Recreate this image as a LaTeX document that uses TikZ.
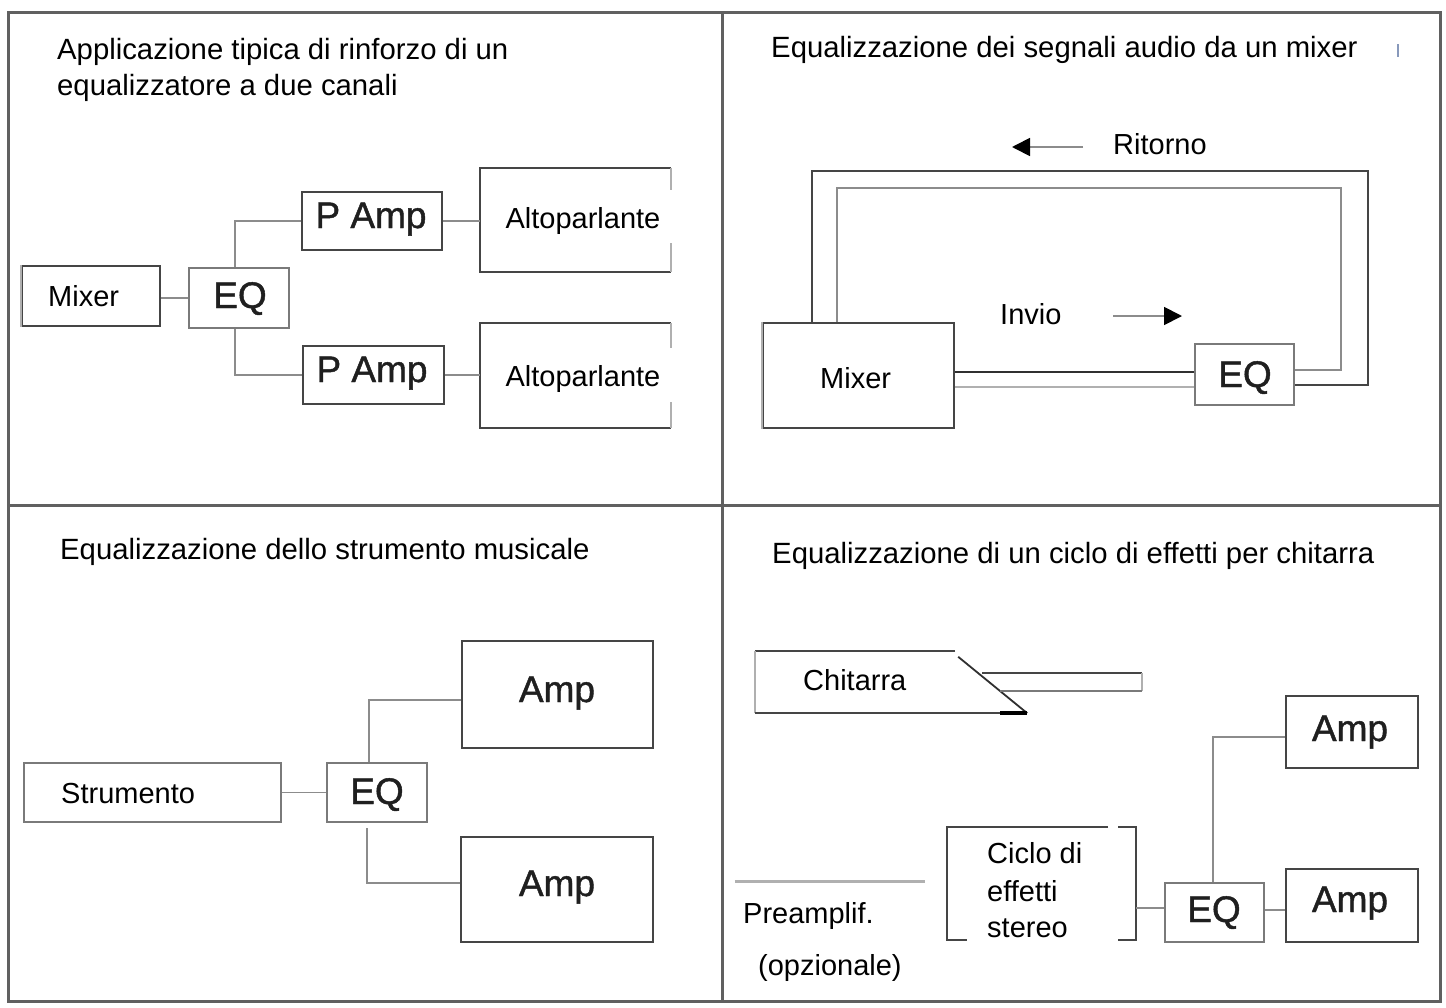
\documentclass[tikz,border=0pt]{standalone}
\usepackage{fontspec}
\setmainfont{Liberation Sans}
\newfontfamily\heavyfont[FakeBold=1.2]{Liberation Sans}
\usetikzlibrary{arrows.meta}
\definecolor{framec}{HTML}{606060}
\definecolor{boxc}{HTML}{454545}
\definecolor{eqc}{HTML}{7A7A7A}
\definecolor{sidec}{HTML}{B0B0B0}
\definecolor{wirec}{HTML}{8C8C8C}
\definecolor{darkw}{HTML}{303030}
\definecolor{markc}{HTML}{8899BB}
\begin{document}
\begin{tikzpicture}[x=1pt,y=-1pt,
  txt/.style={font=\fontsize{29}{35}\selectfont, inner sep=0pt, text=black},
  ttl/.style={font=\fontsize{29.3}{35}\selectfont, inner sep=0pt, text=black, anchor=base west},
  big/.style={font=\heavyfont\fontsize{37}{44}\selectfont, inner sep=0pt, text=black!88, anchor=base},
  box/.style={draw=boxc, line width=1.8pt, inner sep=0pt, rectangle},
  eqbox/.style={draw=eqc, line width=1.8pt, inner sep=0pt, rectangle},
  ghost/.style={draw=none, inner sep=0pt, rectangle},
  boxline/.style={draw=boxc, line width=1.8pt},
  sideline/.style={draw=sidec, line width=1.8pt},
  wire/.style={draw=wirec, line width=1.8pt},
  dwire/.style={draw=darkw, line width=1.8pt},
  framel/.style={draw=framec, line width=3pt}
]
\useasboundingbox[fill=white] (0,0) rectangle (1446,1007);
% frame
\draw[framel] (8,12) rectangle (1440,1001);
\draw[framel] (722,12) -- (722,1001);
\draw[framel] (8,505) -- (1440,505);

% ---------- top-left ----------
\node[ttl] (tA1) at (57,59) {Applicazione tipica di rinforzo di un};
\node[ttl] (tA2) at (57,95) {equalizzatore a due canali};
\node[box, minimum width=138pt, minimum height=60pt] (mixA) at (91,296) {};
\draw[sideline] (mixA.north west) -- (mixA.south west);
\node[txt, anchor=base west] (lmixA) at (48,306) {Mixer};
\node[eqbox, minimum width=100pt, minimum height=60pt] (eqA) at (239,298) {};
\node[big] (leqA) at (240,308) {EQ};
\node[box, minimum width=140pt, minimum height=58pt] (pampA1) at (372,221) {};
\node[big] (lpA1) at (371,228) {P Amp};
\node[box, minimum width=141pt, minimum height=58pt] (pampA2) at (373.5,375) {};
\node[big] (lpA2) at (372,382) {P Amp};
\node[ghost, minimum width=191pt, minimum height=104pt] (altoA1) at (575.5,220) {};
\draw[boxline] (altoA1.north east) -- (altoA1.north west) -- (altoA1.south west) -- (altoA1.south east);
\draw[sideline] (altoA1.north east) -- ++(0,22);
\draw[sideline] (altoA1.south east) -- ++(0,-29);
\node[txt, anchor=base] (laA1) at (583,228) {Altoparlante};
\node[ghost, minimum width=191pt, minimum height=105pt] (altoA2) at (575.5,375.5) {};
\draw[boxline] (altoA2.north east) -- (altoA2.north west) -- (altoA2.south west) -- (altoA2.south east);
\draw[sideline] (altoA2.north east) -- ++(0,25);
\draw[sideline] (altoA2.south east) -- ++(0,-26);
\node[txt, anchor=base] (laA2) at (583,386) {Altoparlante};
\draw[wire] (eqA.west) -- (eqA.west -| mixA.east);
\draw[wire] ([xshift=-4pt]eqA.north) |- (pampA1.west);
\draw[wire] ([xshift=-4pt]eqA.south) |- (pampA2.west);
\draw[wire] (pampA1.east) -- (pampA1.east -| altoA1.west);
\draw[wire] (pampA2.east) -- (pampA2.east -| altoA2.west);

% ---------- top-right ----------
\node[ttl] (tB) at (771,57) {Equalizzazione dei segnali audio da un mixer};
\draw[markc, line width=1.2pt] (1398,44) -- (1398,57);
\node[box, minimum width=191pt, minimum height=105pt] (mixB) at (858.5,375.5) {};
\draw[sideline] (mixB.north west) -- (mixB.south west);
\node[txt, anchor=base west] (lmixB) at (820,388) {Mixer};
\node[eqbox, minimum width=99pt, minimum height=61pt] (eqB) at (1244.5,374.5) {};
\node[big] (leqB) at (1245,387) {EQ};
\draw[dwire] ([yshift=3.5pt]mixB.east) -- ([yshift=3.5pt]mixB.east -| eqB.west);
\draw[wire, draw=sidec] ([yshift=-11.5pt]mixB.east) -- ([yshift=-11.5pt]mixB.east -| eqB.west);
\draw[dwire, draw=boxc] ([yshift=-10.5pt]eqB.east) -| (1368,171) -| ([xshift=-46.5pt]mixB.north);
\draw[wire] ([yshift=4.5pt]eqB.east) -| (1341,188) -| ([xshift=-21.5pt]mixB.north);
\node[txt, anchor=base west] (lret) at (1113,154) {Ritorno};
\coordinate (retA) at (1083,147);
\coordinate (retB) at (1012,147);
\draw[wire, -{Triangle[length=18pt,width=18pt,color=black]}] (retA) -- (retB);
\node[txt, anchor=base west] (linv) at (1000,324) {Invio};
\coordinate (invA) at (1113,316);
\coordinate (invB) at (1182,316);
\draw[wire, -{Triangle[length=18pt,width=18pt,color=black]}] (invA) -- (invB);

% ---------- bottom-left ----------
\node[ttl] (tC) at (60,559) {Equalizzazione dello strumento musicale};
\node[box, draw=eqc, minimum width=257pt, minimum height=59pt] (strum) at (152.5,792.5) {};
\node[txt, anchor=base west] (lstrum) at (61,803) {Strumento};
\node[eqbox, minimum width=100pt, minimum height=59pt] (eqC) at (377,792.5) {};
\node[big] (leqC) at (377,804) {EQ};
\node[box, minimum width=191pt, minimum height=107pt] (ampC1) at (557.5,694.5) {};
\node[big] (laC1) at (557,702) {Amp};
\node[box, minimum width=192pt, minimum height=105pt] (ampC2) at (557,889.5) {};
\node[big] (laC2) at (557,896) {Amp};
\draw[wire] (strum.east) -- (eqC.west);
\draw[wire] ([xshift=-8pt]eqC.north) |- ([yshift=-5.5pt]ampC1.west);
\draw[wire] ([xshift=-10pt,yshift=-5.5pt]eqC.south) |- ([yshift=6.5pt]ampC2.west);

% ---------- bottom-right ----------
\node[ttl] (tD) at (772,563) {Equalizzazione di un ciclo di effetti per chitarra};
\node[ghost, minimum width=272pt, minimum height=62pt] (chit) at (891,682) {};
\draw[boxline] ([xshift=-72pt]chit.north east) -- (chit.north west);
\draw[sideline] (chit.north west) -- (chit.south west);
\draw[boxline] (chit.south west) -- (chit.south east);
\draw[dwire] ([xshift=-69pt,yshift=-6pt]chit.north east) -- (chit.south east);
\draw[line width=4pt, black] ([xshift=-27pt]chit.south east) -- (chit.south east);
\coordinate (jk1) at (982,673);
\coordinate (jk2) at (1000,691);
\coordinate (jkR1) at (1142,673);
\coordinate (jkR2) at (1142,691);
\draw[boxline] (jk1) -- (jkR1);
\draw[sideline] (jkR1) -- (jkR2);
\draw[boxline, draw=eqc] (jkR2) -- (jk2);
\node[txt, anchor=base west] (lchit) at (803,690) {Chitarra};
\node[ghost, minimum width=190pt, minimum height=56pt] (pre) at (830,910) {};
\draw[line width=3pt, draw=sidec] (pre.north west) -- (pre.north east);
\node[txt, anchor=base west] (lpre) at (743,923) {Preamplif.};
\node[txt, anchor=base west] (lopt) at (758,975) {(opzionale)};
\node[ghost, minimum width=189pt, minimum height=113pt] (ciclo) at (1041.5,883.5) {};
\draw[boxline] ([xshift=-28pt]ciclo.north east) -- (ciclo.north west) -- (ciclo.south west) -- ++(20,0);
\draw[boxline] ([xshift=-18pt]ciclo.north east) -- (ciclo.north east) -- (ciclo.south east) -- ++(-18,0);
\node[txt, anchor=base west] (lc1) at (987,863) {Ciclo di};
\node[txt, anchor=base west] (lc2) at (987,901) {effetti};
\node[txt, anchor=base west] (lc3) at (987,937) {stereo};
\node[eqbox, minimum width=99pt, minimum height=59pt] (eqD) at (1214.5,912.5) {};
\node[big] (leqD) at (1214,922) {EQ};
\node[box, minimum width=132pt, minimum height=72pt] (ampD1) at (1352,732) {};
\node[big] (laD1) at (1350,741) {Amp};
\node[box, minimum width=132pt, minimum height=73pt] (ampD2) at (1352,905.5) {};
\node[big] (laD2) at (1350,912) {Amp};
\draw[wire] ([yshift=4.5pt]eqD.west) -- ([yshift=4.5pt]eqD.west -| ciclo.east);
\draw[wire] ([yshift=2.5pt]eqD.east) -- ([yshift=2.5pt]eqD.east -| ampD2.west);
\draw[wire] ([xshift=-1.5pt]eqD.north) |- ([yshift=-5pt]ampD1.west);
\end{tikzpicture}
\end{document}
